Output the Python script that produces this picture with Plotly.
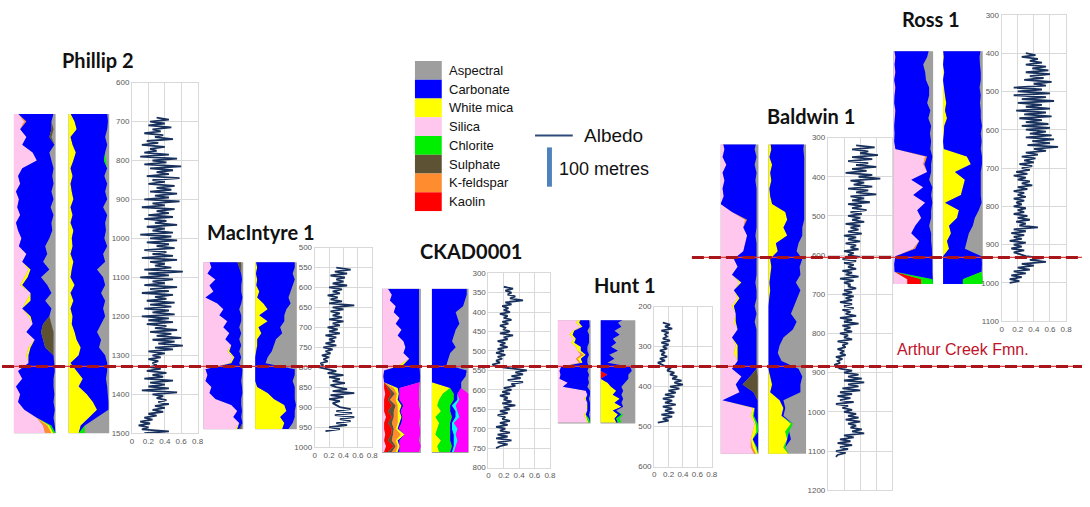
import plotly.graph_objects as go

W, H = 1090, 507

# ---------------------------------------------------------------- colours
MINERAL_COLORS = {
    "Aspectral": "#9E9E9E", "Carbonate": "#0000FF", "White mica": "#FFFF00",
    "Silica": "#FFC6EE", "Chlorite": "#00EE00", "Sulphate": "#5E5235",
    "K-feldspar": "#FF8C2E", "Kaolin": "#FF0000",
    "Magenta": "#FF00FF", "Cyan": "#00FFFF",
}
LEGEND_MINERALS = ["Aspectral", "Carbonate", "White mica", "Silica",
                   "Chlorite", "Sulphate", "K-feldspar", "Kaolin"]
ALBEDO_COLOR = "#17305C"
ALBEDO_STEP = 5  # metres between albedo readings

# ---------------------------------------------------------------- Phillip 2
PH_STRIP_DEPTH = list(range(680, 1501, 20))
PH1_SILICA = [0.1, 0.25, 0.15, 0.3, 0.2, 0.45, 0.55, 0.2, 0.1, 0.15,
              0.05, 0.12, 0.08, 0.15, 0.05, 0.1, 0.18, 0.12, 0.3, 0.2,
              0.35, 0.25, 0.15, 0.4, 0.3, 0.2, 0.35, 0.45, 0.3, 0.5,
              0.35, 0.3, 0.35, 0.1, 0.2, 0.05, 0.15, 0.1, 0.25, 0.55,
              0.7, 0.75]
PH1_KFELD = [0, 0.05] + [0] * 38 + [0.1, 0.15]
PH1_MICA = [0] * 20 + [0.05, 0.08, 0.05, 0, 0.1, 0, 0.05, 0, 0, 0, 0.05, 0.05] + [0] * 8 + [0.05, 0.05]
PH1_CHLOR = [0] * 40 + [0.05, 0.05]
PH1_CARB = [0.85, 0.6, 0.75, 0.55, 0.77, 0.4, 0.35, 0.75, 0.82, 0.8,
            0.85, 0.83, 0.8, 0.8, 0.85, 0.82, 0.67, 0.63, 0.5, 0.5,
            0.45, 0.32, 0.6, 0.5, 0.35, 0.7, 0.45, 0.25, 0.35, 0.2,
            0.35, 0.6, 0.62, 0.88, 0.75, 0.9, 0.82, 0.85, 0.73, 0.4,
            0.08, 0.0]
PH1_SULPH = [0, 0, 0.05, 0.05] + [0] * 23 + [0.2, 0.3, 0.25, 0.2] + [0] * 11
PH2_MICA = [0.05, 0.15, 0.2, 0.05, 0.1, 0.18, 0.12, 0.05, 0.1, 0.05,
            0.08, 0.12, 0.05, 0.1, 0.05, 0.12, 0.08, 0.1, 0.05, 0.12,
            0.08, 0.05, 0.15, 0.05, 0.12, 0.05, 0.1, 0.08, 0.15, 0.2,
            0.3, 0.25, 0.05, 0.2, 0.35, 0.25, 0.45, 0.6, 0.7, 0.5,
            0.3, 0.25]
PH2_CARB = [0.9, 0.82, 0.75, 0.85, 0.85, 0.72, 0.75, 0.9, 0.78, 0.9,
            0.82, 0.83, 0.8, 0.85, 0.85, 0.8, 0.8, 0.85, 0.8, 0.78,
            0.62, 0.8, 0.75, 0.75, 0.78, 0.8, 0.8, 0.72, 0.55, 0.6,
            0.45, 0.65, 0.9, 0.75, 0.57, 0.7, 0.52, 0.38, 0.28, 0.2,
            0.1, 0.0]
PH2_CHLOR = [0] * 6 + [0.05] + [0] * 34 + [0.15]
PH_ALB_TOP = 690
PH_ALBEDO = [0.3, 0.45, 0.22, 0.4, 0.2, 0.48, 0.25, 0.35, 0.15, 0.38, 0.28, 0.5, 0.18, 0.32, 0.12, 0.4, 0.22, 0.3, 0.15, 0.45,
             0.1, 0.55, 0.25, 0.42, 0.15, 0.6, 0.22, 0.5, 0.3, 0.45, 0.18, 0.58, 0.25, 0.4, 0.2, 0.52, 0.3, 0.48, 0.22, 0.55,
             0.28, 0.45, 0.15, 0.58, 0.25, 0.4, 0.12, 0.52, 0.3, 0.45, 0.2, 0.5, 0.15, 0.42, 0.28, 0.55, 0.18, 0.4, 0.25, 0.5,
             0.1, 0.48, 0.22, 0.55, 0.18, 0.45, 0.3, 0.52, 0.15, 0.42, 0.25, 0.5, 0.12, 0.55, 0.22, 0.4, 0.28, 0.48, 0.15, 0.62,
             0.2, 0.45, 0.1, 0.5, 0.25, 0.4, 0.15, 0.55, 0.22, 0.45, 0.12, 0.5, 0.28, 0.42, 0.18, 0.52, 0.22, 0.48, 0.15, 0.45,
             0.25, 0.52, 0.12, 0.45, 0.2, 0.5, 0.18, 0.42, 0.28, 0.55, 0.22, 0.48, 0.3, 0.6, 0.25, 0.52, 0.32, 0.62, 0.28, 0.5,
             0.2, 0.4, 0.25, 0.35, 0.2, 0.32, 0.25, 0.3, 0.22, 0.35, 0.18, 0.42, 0.25, 0.38, 0.15, 0.5, 0.22, 0.4, 0.2, 0.45,
             0.12, 0.55, 0.25, 0.38, 0.3, 0.42, 0.32, 0.45, 0.28, 0.4, 0.25, 0.38, 0.2, 0.3, 0.15, 0.25, 0.1, 0.22, 0.08, 0.2,
             0.12, 0.45, 0.15]

# ---------------------------------------------------------------- MacIntyre 1
MA_STRIP_DEPTH = list(range(535, 961, 15))
MA1_SILICA = [0.15, 0.2, 0.1, 0.3, 0.15, 0.25, 0.05, 0.35, 0.5, 0.4,
              0.6, 0.5, 0.65, 0.55, 0.7, 0.6, 0.75, 0.65, 0.05, 0.1,
              0.05, 0.2, 0.15, 0.3, 0.7, 0.85, 0.75, 0.9, 0.8]
MA1_MICA = [0] * 15 + [0.05, 0.03, 0.05] + [0] * 10 + [0.05]
MA1_CARB = [0.7, 0.7, 0.85, 0.67, 0.8, 0.7, 0.93, 0.6, 0.4, 0.55,
            0.35, 0.4, 0.3, 0.35, 0.25, 0.25, 0.17, 0.2, 0.93, 0.87,
            0.9, 0.77, 0.83, 0.65, 0.25, 0.12, 0.2, 0.08, 0.05]
MA1_SULPH = [0.1, 0.05] + [0] * 26 + [0.05]
MA2_MICA = [0.02, 0.05, 0.02, 0.05, 0.03, 0.1, 0.05, 0.2, 0.3, 0.1,
            0.3, 0.08, 0.15, 0.05, 0.05, 0.02, 0, 0, 0, 0,
            0, 0.05, 0.3, 0.45, 0.7, 0.75, 0.6, 0.7, 0.65]
MA2_CARB = [0.93, 0.9, 0.88, 0.9, 0.87, 0.75, 0.75, 0.65, 0.45, 0.6,
            0.4, 0.52, 0.5, 0.45, 0.4, 0.38, 0.3, 0.25, 0.95, 0.95,
            0.9, 0.9, 0.65, 0.5, 0.28, 0.2, 0.35, 0.2, 0.15]
MA_ALB_TOP = 550
MA_ALBEDO = [0.3, 0.5, 0.28, 0.45, 0.22, 0.42, 0.3, 0.4, 0.25, 0.45, 0.2, 0.38, 0.25, 0.35, 0.18, 0.32, 0.22, 0.38, 0.2, 0.55,
             0.25, 0.4, 0.22, 0.35, 0.25, 0.38, 0.2, 0.4, 0.25, 0.35, 0.18, 0.32, 0.2, 0.35, 0.15, 0.3, 0.2, 0.28, 0.15, 0.3,
             0.12, 0.25, 0.15, 0.22, 0.1, 0.2, 0.12, 0.18, 0.08, 0.12, 0.05, 0.2, 0.3, 0.18, 0.4, 0.2, 0.35, 0.25, 0.42, 0.22,
             0.3, 0.45, 0.25, 0.55, 0.22, 0.4, 0.2, 0.35, 0.25, 0.3, 0.35, 0.5, 0.3, 0.52, 0.28, 0.55, 0.35, 0.5, 0.3, 0.45,
             0.2, 0.35, 0.15]

# ---------------------------------------------------------------- CKAD0001
CK_STRIP_DEPTH = list(range(340, 761, 15))
CK1_SILICA = [0.15, 0.25, 0.2, 0.35, 0.3, 0.45, 0.35, 0.5, 0.4, 0.55,
              0.6, 0.55, 0.7, 0.45, 0.05, 0.03, 0.05, 0.05, 0.08, 0.05,
              0.05, 0.05, 0.1, 0.05, 0.05, 0.08, 0.05, 0.1, 0.05]
CK1_KAOLIN = [0] * 17 + [0.1, 0.15, 0.1, 0.2, 0.1, 0.15, 0.1, 0.2, 0.15, 0.1, 0.2, 0.1]
CK1_SULPH = [0] * 17 + [0.05, 0.1, 0.05, 0.1, 0.15, 0.05, 0.1, 0.05, 0.05, 0.1, 0.05, 0.1]
CK1_KFELD = [0] * 17 + [0.1, 0.05, 0.15, 0.05, 0.1, 0.1, 0.15, 0.05, 0.2, 0.1, 0.05, 0.1]
CK1_MICA = [0] * 13 + [0.1] + [0] * 3 + [0.1, 0.05, 0.05, 0.1, 0.05, 0.1, 0.05, 0.05, 0.1, 0.05, 0.05, 0.05]
CK1_CARB = [0.8, 0.7, 0.75, 0.6, 0.65, 0.5, 0.6, 0.45, 0.55, 0.4,
            0.35, 0.4, 0.25, 0.4, 0.92, 0.95, 0.92, 0.05, 0.02, 0.05,
            0.05, 0.03, 0.03, 0.05, 0.03, 0.0, 0.05, 0.0, 0.05]
CK1_MAGENTA = [0] * 17 + [0.5, 0.5, 0.5, 0.4, 0.5, 0.45, 0.45, 0.55, 0.4, 0.5, 0.55, 0.5]
CK2_MICA = [0] * 17 + [0.5, 0.3, 0.2, 0.15, 0.25, 0.1, 0.2, 0.15, 0.1, 0.25, 0.15, 0.2]
CK2_CHLOR = [0] * 18 + [0.3, 0.4, 0.35, 0.25, 0.45, 0.3, 0.35, 0.4, 0.25, 0.4, 0.3]
CK2_CARB = [0.95, 0.95, 0.9, 0.85, 0.65, 0.7, 0.75, 0.65, 0.6, 0.55,
            0.65, 0.5, 0.45, 0.4, 0.95, 0.92, 0.8, 0.3, 0.1, 0.1,
            0.05, 0.15, 0.1, 0.05, 0.05, 0.1, 0.1, 0.05, 0.05]
CK2_CYAN = [0] * 18 + [0, 0.05, 0.1, 0.05, 0.1, 0.05, 0.15, 0.05, 0.1, 0.05, 0.05]
CK2_MAGENTA = [0] * 18 + [0.3, 0.25, 0.35, 0.3, 0.25, 0.4, 0.3, 0.35, 0.3, 0.35, 0.4]
CK_ALB_TOP = 335
CK_ALBEDO = [0.2, 0.32, 0.22, 0.3, 0.25, 0.35, 0.28, 0.45, 0.22, 0.3, 0.18, 0.26, 0.2, 0.28, 0.15, 0.25, 0.2, 0.3, 0.18, 0.26,
             0.15, 0.22, 0.2, 0.28, 0.15, 0.32, 0.2, 0.25, 0.12, 0.22, 0.15, 0.25, 0.12, 0.2, 0.1, 0.22, 0.12, 0.18, 0.1, 0.15,
             0.05, 0.1, 0.3, 0.5, 0.35, 0.45, 0.3, 0.42, 0.25, 0.45, 0.3, 0.35, 0.2, 0.3, 0.18, 0.28, 0.15, 0.25, 0.2, 0.3,
             0.18, 0.35, 0.2, 0.28, 0.15, 0.25, 0.12, 0.22, 0.18, 0.28, 0.15, 0.25, 0.1, 0.22, 0.15, 0.28, 0.12, 0.25, 0.1, 0.3,
             0.12, 0.25, 0.15, 0.1]

# ---------------------------------------------------------------- Hunt 1
HU_STRIP_DEPTH = list(range(230, 491, 10))
HU1_SILICA = [0.65, 0.55, 0.7, 0.45, 0.35, 0.5, 0.4, 0.55, 0.6, 0.7,
              0.55, 0.65, 0.1, 0.05, 0.08, 0.05, 0.3, 0.15, 0.85, 0.9,
              0.8, 0.9, 0.85, 0.9, 0.8, 0.85, 0.9]
HU1_KFELD = [0] * 9 + [0.1, 0.05, 0.05] + [0] * 15
HU1_MICA = [0.05, 0.1, 0.05, 0.05, 0.1, 0.05, 0.1, 0.15, 0.1, 0.05,
            0.1, 0.05, 0, 0, 0, 0, 0, 0, 0, 0,
            0.05, 0, 0.05, 0, 0.05, 0.05, 0.03]
HU1_CHLOR = [0] * 25 + [0.05, 0.05]
HU1_CARB = [0.25, 0.3, 0.22, 0.4, 0.5, 0.4, 0.45, 0.2, 0.2, 0.1,
            0.2, 0.15, 0.85, 0.85, 0.87, 0.87, 0.65, 0.75, 0.13, 0.08,
            0.1, 0.08, 0.08, 0.08, 0.1, 0.03, 0.0]
HU2_KAOLIN = [0] * 14 + [0.2] + [0] * 12
HU2_MICA = [0] * 16 + [0.2, 0.3, 0.45, 0.35, 0.55, 0.4, 0.6, 0.35, 0.5, 0.4, 0.45]
HU2_CARB = [0.7, 0.5, 0.6, 0.4, 0.55, 0.35, 0.45, 0.3, 0.5, 0.25,
            0.4, 0.2, 0.85, 0.9, 0.6, 0.8, 0.5, 0.3, 0.2, 0.25,
            0.1, 0.2, 0.05, 0.1, 0.1, 0.05, 0.05]
HU2_CHLOR = [0] * 24 + [0.05, 0.1, 0.1]
HU_ALB_TOP = 240
HU_ALBEDO = [0.12, 0.22, 0.15, 0.25, 0.1, 0.2, 0.15, 0.18, 0.12, 0.22, 0.1, 0.2, 0.12, 0.18, 0.08, 0.15, 0.1, 0.18, 0.08, 0.15,
             0.05, 0.1, 0.15, 0.22, 0.18, 0.28, 0.22, 0.32, 0.25, 0.38, 0.28, 0.4, 0.22, 0.35, 0.2, 0.3, 0.15, 0.28, 0.12, 0.25,
             0.15, 0.3, 0.12, 0.25, 0.15, 0.28, 0.1, 0.25, 0.12, 0.2, 0.05]

# ---------------------------------------------------------------- Baldwin 1
BA_STRIP_DEPTH = list(range(310, 1111, 20))
BA1_SILICA = [0.05, 0.1, 0.05, 0.15, 0.05, 0.1, 0.05, 0.08, 0.0, 0.3,
              0.65, 0.6, 0.7, 0.65, 0.6, 0.35, 0.45, 0.3, 0.5, 0.35,
              0.45, 0.3, 0.4, 0.35, 0.45, 0.3, 0.4, 0.35, 0.45, 0.3,
              0.55, 0.4, 0.5, 0.05, 0.85, 0.8, 0.9, 0.85, 0.8, 0.8, 0.9]
BA1_KFELD = [0] * 10 + [0.05] + [0] * 28 + [0.05, 0.05]
BA1_MICA = [0] * 18 + [0.05, 0, 0.05, 0.05, 0, 0.05, 0, 0, 0.05, 0.1,
                       0, 0, 0, 0, 0, 0, 0.05, 0.05, 0.03, 0.1, 0.05, 0.08, 0.05]
BA1_CHLOR = [0] * 35 + [0.03, 0.05, 0.05, 0, 0.03, 0]
BA1_CARB = [0.9, 0.8, 0.9, 0.75, 0.9, 0.82, 0.9, 0.87, 0.97, 0.65,
            0.25, 0.35, 0.22, 0.3, 0.35, 0.6, 0.52, 0.65, 0.37, 0.6,
            0.45, 0.55, 0.55, 0.5, 0.5, 0.65, 0.5, 0.5, 0.5, 0.65,
            0.23, 0.18, 0.37, 0.93, 0.08, 0.1, 0.02, 0.0, 0.13, 0.04, 0.0]
BA1_SULPH = [0] * 30 + [0.2, 0.4, 0.1] + [0] * 8
BA2_MICA = [0.05, 0.08, 0.03, 0.1, 0.05, 0.08, 0.03, 0.05, 0.1, 0.45,
            0.5, 0.4, 0.5, 0.2, 0.25, 0.05, 0.08, 0.05, 0.03, 0.05,
            0.02, 0, 0, 0, 0, 0, 0, 0, 0, 0,
            0.05, 0.1, 0.05, 0.3, 0.4, 0.35, 0.6, 0.45, 0.5, 0.4, 0.55]
BA2_CHLOR = [0] * 36 + [0.05, 0.1, 0, 0.05, 0]
BA2_CARB = [0.9, 0.85, 0.92, 0.85, 0.9, 0.87, 0.92, 0.9, 0.85, 0.5,
            0.45, 0.5, 0.4, 0.6, 0.5, 0.85, 0.75, 0.8, 0.7, 0.8,
            0.75, 0.7, 0.6, 0.75, 0.65, 0.4, 0.3, 0.25, 0.35, 0.8,
            0.85, 0.75, 0.8, 0.1, 0.05, 0.05, 0.0, 0.0, 0.1, 0.0, 0.0]
BA_ALB_TOP = 320
BA_ALBEDO = [0.35, 0.58, 0.3, 0.5, 0.4, 0.62, 0.3, 0.55, 0.25, 0.5, 0.35, 0.6, 0.3, 0.48, 0.22, 0.55, 0.38, 0.65, 0.28, 0.45,
             0.32, 0.55, 0.25, 0.5, 0.35, 0.6, 0.28, 0.45, 0.3, 0.52, 0.25, 0.42, 0.3, 0.48, 0.28, 0.42, 0.25, 0.4, 0.3, 0.45,
             0.22, 0.4, 0.28, 0.38, 0.25, 0.42, 0.2, 0.35, 0.25, 0.4, 0.22, 0.35, 0.28, 0.38, 0.2, 0.32, 0.25, 0.4, 0.18, 0.35,
             0.2, 0.32, 0.25, 0.35, 0.18, 0.3, 0.22, 0.38, 0.15, 0.32, 0.2, 0.28, 0.25, 0.35, 0.2, 0.3, 0.18, 0.32, 0.22, 0.3,
             0.15, 0.3, 0.2, 0.32, 0.18, 0.28, 0.22, 0.35, 0.15, 0.3, 0.2, 0.38, 0.18, 0.28, 0.2, 0.3, 0.15, 0.25, 0.2, 0.3,
             0.12, 0.25, 0.18, 0.22, 0.12, 0.2, 0.15, 0.22, 0.1, 0.18, 0.12, 0.15, 0.08, 0.12, 0.15, 0.3, 0.2, 0.38, 0.25, 0.42,
             0.2, 0.45, 0.25, 0.38, 0.18, 0.4, 0.15, 0.3, 0.12, 0.28, 0.15, 0.32, 0.1, 0.25, 0.18, 0.3, 0.2, 0.35, 0.25, 0.38,
             0.22, 0.4, 0.25, 0.35, 0.28, 0.42, 0.3, 0.45, 0.2, 0.32, 0.15, 0.28, 0.12, 0.3, 0.15, 0.25, 0.1, 0.22, 0.12, 0.1]

# ---------------------------------------------------------------- Ross 1
RO_STRIP_DEPTH = list(range(390, 1011, 20))
RO1_SILICA = [0.02, 0.05, 0.03, 0.05, 0.02, 0.05, 0.03, 0.02, 0.05, 0.03,
              0.02, 0.03, 0.02, 0.05, 0.8, 0.75, 0.85, 0.45, 0.75, 0.5,
              0.8, 0.6, 0.7, 0.55, 0.45, 0.65, 0.5, 0.05, 0.02, 0.03,
              0.35, 0.35]
RO1_KAOLIN = [0] * 30 + [0.35, 0.35]
RO1_KFELD = [0] * 14 + [0.05, 0.03] + [0] * 10 + [0.05, 0] + [0] * 4
RO1_CHLOR = [0] * 30 + [0.3, 0.3]
RO1_CARB = [0.88, 0.8, 0.72, 0.75, 0.8, 0.85, 0.87, 0.83, 0.88, 0.85,
            0.93, 0.89, 0.93, 0.88, 0.13, 0.17, 0.1, 0.45, 0.23, 0.45,
            0.18, 0.35, 0.25, 0.35, 0.5, 0.3, 0.42, 0.93, 0.96, 0.95,
            0.0, 0.0]
RO2_MICA = [0, 0.02, 0, 0.03, 0, 0.02, 0.05, 0.08, 0.05, 0.1,
            0.03, 0.02, 0, 0.02, 0.6, 0.7, 0.3, 0.55, 0.5, 0.45,
            0.05, 0.4, 0.35, 0.15, 0.2, 0.1, 0.15, 0, 0, 0,
            0, 0]
RO2_CARB = [0.95, 0.9, 0.93, 0.92, 0.95, 0.9, 0.9, 0.85, 0.9, 0.85,
            0.95, 0.93, 0.97, 0.93, 0.38, 0.28, 0.65, 0.4, 0.45, 0.5,
            0.92, 0.5, 0.45, 0.6, 0.45, 0.5, 0.4, 0.97, 0.98, 0.97,
            0.5, 0.5]
RO2_CHLOR = [0] * 30 + [0.5, 0.5]
RO_ALB_TOP = 400
RO_ALBEDO = [0.3, 0.42, 0.25, 0.45, 0.35, 0.5, 0.3, 0.55, 0.38, 0.58, 0.3, 0.6, 0.35, 0.52, 0.28, 0.62, 0.4, 0.55, 0.15, 0.5,
             0.2, 0.6, 0.15, 0.55, 0.25, 0.65, 0.2, 0.5, 0.3, 0.6, 0.18, 0.55, 0.28, 0.62, 0.22, 0.5, 0.3, 0.58, 0.25, 0.6,
             0.3, 0.55, 0.35, 0.62, 0.3, 0.65, 0.38, 0.6, 0.32, 0.7, 0.4, 0.55, 0.3, 0.45, 0.25, 0.42, 0.28, 0.4, 0.22, 0.38,
             0.25, 0.35, 0.18, 0.32, 0.15, 0.3, 0.2, 0.35, 0.25, 0.38, 0.2, 0.32, 0.15, 0.28, 0.2, 0.3, 0.15, 0.28, 0.18, 0.25,
             0.15, 0.3, 0.2, 0.28, 0.15, 0.32, 0.2, 0.35, 0.18, 0.3, 0.22, 0.45, 0.15, 0.3, 0.12, 0.28, 0.15, 0.25, 0.1, 0.3,
             0.15, 0.25, 0.12, 0.28, 0.15, 0.22, 0.3, 0.5, 0.35, 0.55, 0.25, 0.4, 0.2, 0.35, 0.15, 0.3, 0.12, 0.25, 0.1, 0.22,
             0.1]

# ---------------------------------------------------------------- assemble wells
WELLS = [
    dict(name="Phillip 2", strip_depth=PH_STRIP_DEPTH,
         s1=[("Silica", PH1_SILICA), ("K-feldspar", PH1_KFELD), ("White mica", PH1_MICA),
             ("Chlorite", PH1_CHLOR), ("Carbonate", PH1_CARB), ("Sulphate", PH1_SULPH)],
         s2=[("White mica", PH2_MICA), ("Carbonate", PH2_CARB), ("Chlorite", PH2_CHLOR)],
         alb_top=PH_ALB_TOP, albedo=PH_ALBEDO),
    dict(name="MacIntyre 1", strip_depth=MA_STRIP_DEPTH,
         s1=[("Silica", MA1_SILICA), ("White mica", MA1_MICA), ("Carbonate", MA1_CARB),
             ("Sulphate", MA1_SULPH)],
         s2=[("White mica", MA2_MICA), ("Carbonate", MA2_CARB)],
         alb_top=MA_ALB_TOP, albedo=MA_ALBEDO),
    dict(name="CKAD0001", strip_depth=CK_STRIP_DEPTH,
         s1=[("Silica", CK1_SILICA), ("Kaolin", CK1_KAOLIN), ("Sulphate", CK1_SULPH),
             ("K-feldspar", CK1_KFELD), ("White mica", CK1_MICA), ("Carbonate", CK1_CARB),
             ("Magenta", CK1_MAGENTA)],
         s2=[("White mica", CK2_MICA), ("Chlorite", CK2_CHLOR), ("Carbonate", CK2_CARB),
             ("Cyan", CK2_CYAN), ("Magenta", CK2_MAGENTA)],
         alb_top=CK_ALB_TOP, albedo=CK_ALBEDO),
    dict(name="Hunt 1", strip_depth=HU_STRIP_DEPTH,
         s1=[("Silica", HU1_SILICA), ("K-feldspar", HU1_KFELD), ("White mica", HU1_MICA),
             ("Chlorite", HU1_CHLOR), ("Carbonate", HU1_CARB)],
         s2=[("Kaolin", HU2_KAOLIN), ("White mica", HU2_MICA), ("Carbonate", HU2_CARB),
             ("Chlorite", HU2_CHLOR)],
         alb_top=HU_ALB_TOP, albedo=HU_ALBEDO),
    dict(name="Baldwin 1", strip_depth=BA_STRIP_DEPTH,
         s1=[("Silica", BA1_SILICA), ("K-feldspar", BA1_KFELD), ("White mica", BA1_MICA),
             ("Chlorite", BA1_CHLOR), ("Carbonate", BA1_CARB), ("Sulphate", BA1_SULPH)],
         s2=[("White mica", BA2_MICA), ("Chlorite", BA2_CHLOR), ("Carbonate", BA2_CARB)],
         alb_top=BA_ALB_TOP, albedo=BA_ALBEDO),
    dict(name="Ross 1", strip_depth=RO_STRIP_DEPTH,
         s1=[("Silica", RO1_SILICA), ("Kaolin", RO1_KAOLIN), ("K-feldspar", RO1_KFELD),
             ("Chlorite", RO1_CHLOR), ("Carbonate", RO1_CARB)],
         s2=[("White mica", RO2_MICA), ("Carbonate", RO2_CARB), ("Chlorite", RO2_CHLOR)],
         alb_top=RO_ALB_TOP, albedo=RO_ALBEDO),
]

# ---------------------------------------------------------------- page layout (pixels)
PANEL_LAYOUT = {
    "Phillip 2": dict(title=(97, 57), s1=(12, 54), s2=(67, 108), sy=(112, 437), sdepth=(681, 1500),
                      ax=(131, 197), ay=(80, 437), adepth=(600, 1500), dtick=100, showx=True),
    "MacIntyre 1": dict(title=(261, 232), s1=(203, 243), s2=(255, 297), sy=(263, 433), sdepth=(537, 956),
                        ax=(315, 373), ay=(248, 451), adepth=(500, 1000), dtick=50, showx=True),
    "CKAD0001": dict(title=(472, 251), s1=(383, 422), s2=(433, 470), sy=(290, 457), sdepth=(340, 762),
                     ax=(490, 552), ay=(274, 472), adepth=(300, 800), dtick=50, showx=True),
    "Hunt 1": dict(title=(628, 286), s1=(560, 593), s2=(603, 638), sy=(322, 427), sdepth=(234, 492),
                   ax=(657, 715), ay=(308, 471), adepth=(200, 600), dtick=100, showx=True),
    "Baldwin 1": dict(title=(815, 114), s1=(724, 762), s2=(772, 810), sy=(143, 458), sdepth=(318, 1107),
                      ax=(832, 897), ay=(136, 495), adepth=(300, 1200), dtick=100, showx=False),
    "Ross 1": dict(title=(936, 15), s1=(898, 938), s2=(948, 988), sy=(48, 285), sdepth=(395, 1002),
                   ax=(1007, 1072), ay=(11, 323), adepth=(300, 1100), dtick=100, showx=True),
}

fig = go.Figure()
layout_axes = {}
shapes = []
annotations = []
counter = [0]


def dom_x(p):
    return [p[0] / W, p[1] / W]


def dom_y(p):
    return [1 - p[1] / H, 1 - p[0] / H]


def new_axes():
    counter[0] += 1
    k = counter[0]
    return k, ("" if k == 1 else str(k))


GRID = "#D9D9D9"
TICKFONT = dict(family="Liberation Sans, Arial, sans-serif", size=8, color="#595959")

for well in WELLS:
    P = PANEL_LAYOUT[well["name"]]
    depth = well["strip_depth"]
    for skey in ("s1", "s2"):
        k, sfx = new_axes()
        layout_axes["xaxis" + sfx] = dict(domain=dom_x(P[skey]), range=[0, 1], visible=False,
                                          anchor="y" + sfx, fixedrange=True)
        layout_axes["yaxis" + sfx] = dict(domain=dom_y(P["sy"]), range=[P["sdepth"][1], P["sdepth"][0]],
                                          visible=False, anchor="x" + sfx, fixedrange=True)
        shapes.append(dict(type="rect", xref="x%s domain" % sfx, yref="y%s domain" % sfx,
                           x0=0, x1=1, y0=0, y1=1, fillcolor=MINERAL_COLORS["Aspectral"],
                           line=dict(width=0), layer="below"))
        for mineral, vals in well[skey]:
            assert len(vals) == len(depth), (well["name"], skey, mineral, len(vals), len(depth))
            fig.add_trace(go.Scatter(
                x=vals, y=depth, mode="lines",
                line=dict(width=0, color=MINERAL_COLORS[mineral]),
                fillcolor=MINERAL_COLORS[mineral], stackgroup="g%d" % k, orientation="h",
                xaxis="x" + sfx, yaxis="y" + sfx, showlegend=False, hoverinfo="skip", name=mineral))
    # albedo panel
    k, sfx = new_axes()
    layout_axes["xaxis" + sfx] = dict(
        domain=dom_x(P["ax"]), range=[0, 0.8], anchor="y" + sfx,
        tickvals=[0, 0.2, 0.4, 0.6, 0.8], ticktext=["0", "0.2", "0.4", "0.6", "0.8"],
        showgrid=True, gridcolor=GRID, gridwidth=1, showline=True, linecolor=GRID, mirror=True,
        zeroline=False, ticks="", tickfont=TICKFONT, showticklabels=P["showx"], fixedrange=True)
    layout_axes["yaxis" + sfx] = dict(
        domain=dom_y(P["ay"]), range=[P["adepth"][1], P["adepth"][0]], anchor="x" + sfx,
        tick0=P["adepth"][0], dtick=P["dtick"], tickformat="d",
        showgrid=True, gridcolor=GRID, gridwidth=1, showline=True, linecolor=GRID, mirror=True,
        zeroline=False, ticks="", tickfont=TICKFONT, fixedrange=True)
    alb_depth = [well["alb_top"] + ALBEDO_STEP * i for i in range(len(well["albedo"]))]
    fig.add_trace(go.Scatter(
        x=well["albedo"], y=alb_depth, mode="lines",
        line=dict(color=ALBEDO_COLOR, width=1.8),
        xaxis="x" + sfx, yaxis="y" + sfx, showlegend=False, name="Albedo"))
    annotations.append(dict(text="<b>%s</b>" % well["name"], x=P["title"][0] / W, y=1 - P["title"][1] / H,
                            xref="paper", yref="paper", xanchor="center", yanchor="middle",
                            showarrow=False, font=dict(family="Lato, Liberation Sans, sans-serif",
                                                       size=20, color="#111111")))

# ---------------------------------------------------------------- Arthur Creek Fmn. markers
for (x0, x1, yp) in [(0, 1088, 369), (695, 1088, 258)]:
    shapes.append(dict(type="line", xref="paper", yref="paper", x0=x0 / W, x1=x1 / W,
                       y0=1 - yp / H, y1=1 - yp / H, line=dict(color="#E04040", width=1.2)))
    shapes.append(dict(type="line", xref="paper", yref="paper", x0=x0 / W, x1=x1 / W,
                       y0=1 - yp / H, y1=1 - yp / H, line=dict(color="#A8161C", width=3, dash="12px,5px")))
annotations.append(dict(text="Arthur Creek Fmn.", x=968 / W, y=1 - 352 / H, xref="paper", yref="paper",
                        xanchor="center", yanchor="middle", showarrow=False,
                        font=dict(family="Liberation Sans, Arial, sans-serif", size=16, color="#C0122A")))

# ---------------------------------------------------------------- legend
LEG_X0, LEG_X1, LEG_Y0, LEG_ROW = 416, 443, 58, 19.1
for i, m in enumerate(LEGEND_MINERALS):
    y0 = LEG_Y0 + i * LEG_ROW
    shapes.append(dict(type="rect", xref="paper", yref="paper", x0=LEG_X0 / W, x1=LEG_X1 / W,
                       y0=1 - (y0 + LEG_ROW) / H, y1=1 - y0 / H,
                       fillcolor=MINERAL_COLORS[m], line=dict(width=0)))
    annotations.append(dict(text=m, x=448 / W, y=1 - (y0 + LEG_ROW / 2) / H, xref="paper", yref="paper",
                            xanchor="left", yanchor="middle", showarrow=False,
                            font=dict(family="Liberation Sans, Arial, sans-serif", size=13, color="#111111")))
shapes.append(dict(type="line", xref="paper", yref="paper", x0=537 / W, x1=575 / W,
                   y0=1 - 134 / H, y1=1 - 134 / H, line=dict(color="#2E4A7A", width=2)))
annotations.append(dict(text="Albedo", x=584 / W, y=1 - 134 / H, xref="paper", yref="paper",
                        xanchor="left", yanchor="middle", showarrow=False,
                        font=dict(family="Liberation Sans, Arial, sans-serif", size=19, color="#111111")))
shapes.append(dict(type="rect", xref="paper", yref="paper", x0=549 / W, x1=554 / W,
                   y0=1 - 186 / H, y1=1 - 146 / H, fillcolor="#4F81BD", line=dict(width=0)))
annotations.append(dict(text="100 metres", x=559 / W, y=1 - 168 / H, xref="paper", yref="paper",
                        xanchor="left", yanchor="middle", showarrow=False,
                        font=dict(family="Liberation Sans, Arial, sans-serif", size=18, color="#111111")))

fig.update_layout(
    width=W, height=H, autosize=False,
    margin=dict(l=0, r=0, t=0, b=0, pad=0),
    paper_bgcolor="white", plot_bgcolor="white",
    font=dict(family="Liberation Sans, Arial, sans-serif"),
    showlegend=False, shapes=shapes, annotations=annotations,
    **layout_axes,
)

fig.write_html("out.html")
